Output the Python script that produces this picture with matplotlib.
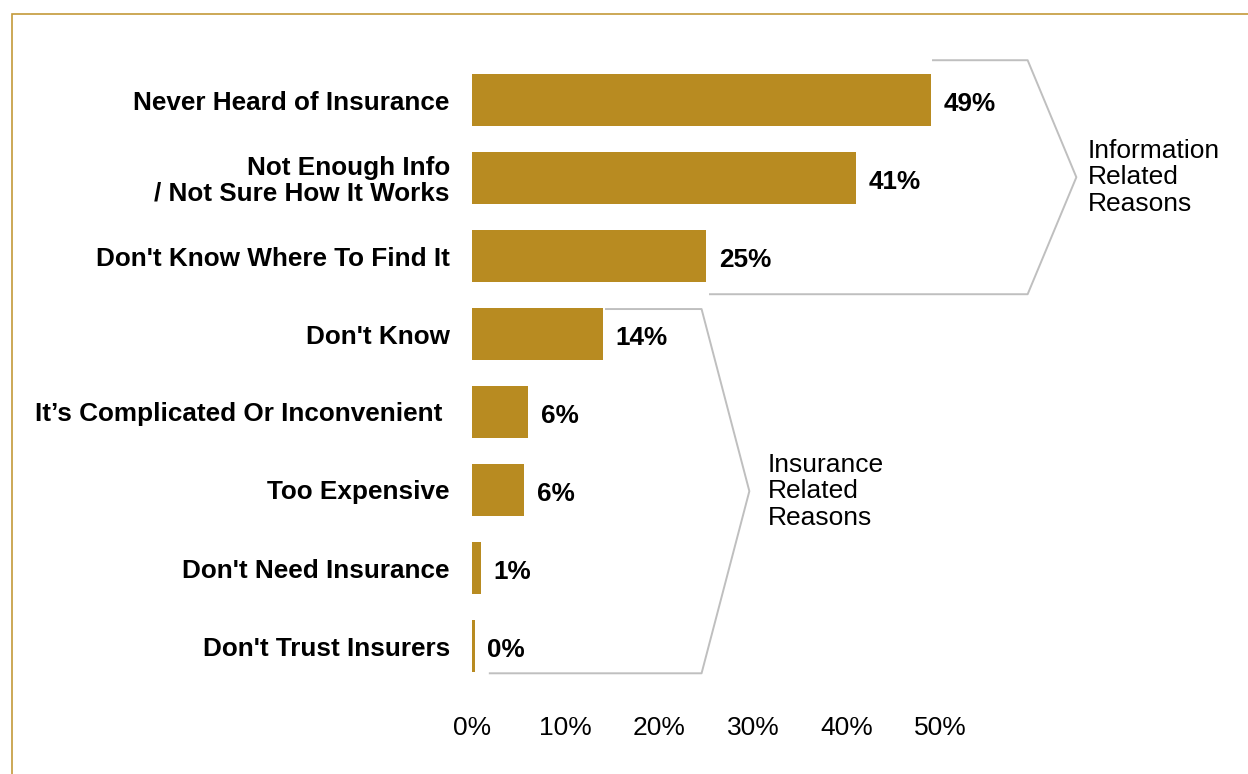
import matplotlib.pyplot as plt
from matplotlib.patches import Rectangle

plt.rcParams['font.family'] = ['Liberation Sans', 'DejaVu Sans']

# Survey: reasons for not having insurance (% of respondents)
reasons = [
    'Never Heard of Insurance',
    'Not Enough Info\n/ Not Sure How It Works',
    "Don't Know Where To Find It",
    "Don't Know",
    'It\u2019s Complicated Or Inconvenient ',
    'Too Expensive',
    "Don't Need Insurance",
    "Don't Trust Insurers",
]
shares = [49, 41, 25, 14, 6, 5.6, 1, 0.3]
share_labels = ['49%', '41%', '25%', '14%', '6%', '6%', '1%', '0%']
ticks = [0, 10, 20, 30, 40, 50]

# bracket groups: label, first row, last row
group_labels = ['Information\nRelated\nReasons', 'Insurance\nRelated\nReasons']
group_rows = [(0, 2), (3, 7)]

gold = '#B88B21'
bracket_grey = '#BFBFBF'

fig = plt.figure(figsize=(12.48, 7.74), dpi=100)
ax = fig.add_axes([472 / 1248, 1 - 685 / 774, 468.5 / 1248, 624 / 774])

rows = list(range(len(reasons)))
ax.barh(rows, shares, height=0.667, color=gold)

for i, (v, lab) in enumerate(zip(shares, share_labels)):
    ax.annotate(lab, (v, i), xytext=(9, -3), textcoords='offset points',
                ha='left', va='center', fontsize=18.8, fontweight='bold')

ax.set_xlim(0, 50)
ax.set_ylim(7.5, -0.5)
ax.set_yticks(rows)
ax.set_yticklabels(reasons, fontsize=18.8, fontweight='bold', linespacing=1.05)
ax.set_xticks(ticks)
ax.set_xticklabels([f'{t}%' for t in ticks], fontsize=19)
ax.tick_params(axis='y', length=0, pad=16)
ax.tick_params(axis='x', length=0, pad=22)
for s in ax.spines.values():
    s.set_visible(False)
# nudge the two-line label up a little
ax.get_yticklabels()[1].set_y(-0.08)

# chevron brackets around each group of reasons
# top edge: above the group's first bar; bottom edge: under its last bar
brackets = [
    # top_y, top_x, bot_y, bot_x, right, tip, text gap
    (-0.51, shares[0] + 0.2, 2.49, shares[2] + 0.4, 59.3, 64.5, 1.2),
    (2.68, shares[3] + 0.3, 7.35, 1.9, 24.5, 29.6, 2.0),
]
for text, (top_y, top_x, bot_y, bot_x, right, tip, gap) in zip(group_labels, brackets):
    tip_y = (top_y + bot_y) / 2
    ax.plot([top_x, right, tip, right, bot_x],
            [top_y, top_y, tip_y, bot_y, bot_y],
            color=bracket_grey, lw=1.4, clip_on=False)
    ax.text(tip + gap, tip_y, text, ha='left', va='center',
            fontsize=19, linespacing=1.13)

# thin gold frame around the figure
fig.patches.append(Rectangle((12 / 1248, -0.1), 1.2, 1 - 14 / 774 + 0.1,
                             transform=fig.transFigure, fill=False,
                             edgecolor='#C49A3A', lw=1.2))

fig.savefig('out.png', dpi=100)
